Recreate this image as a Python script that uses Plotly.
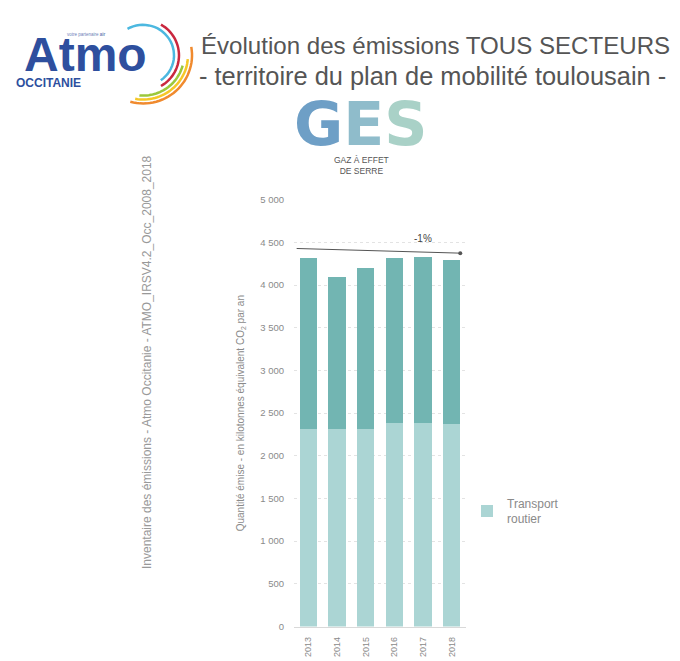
import math
import plotly.graph_objects as go

# data (kt eq. CO2 per year)
years = ["2013", "2014", "2015", "2016", "2017", "2018"]
transport_routier = [2320, 2320, 2320, 2385, 2385, 2370]
total_secteurs = [4320, 4100, 4200, 4320, 4330, 4295]
autres_secteurs = [t - r for t, r in zip(total_secteurs, transport_routier)]
y_ticks = [0, 500, 1000, 1500, 2000, 2500, 3000, 3500, 4000, 4500, 5000]
trend_label = "-1%"

# page body has an 8px margin, so the figure is drawn 8px smaller and
# all pixel positions below are taken from the reference minus 8
OFF = 8
W, H = 680 - OFF, 661 - OFF
GRAY = "#8a8a8a"
SANS = "Liberation Sans, Arial"


def main():
  fig = go.Figure()
  fig.add_trace(go.Bar(
    x=years, y=transport_routier, name="Transport<br>routier",
    marker=dict(color="#abd5d4", line=dict(width=0)), showlegend=True))
  fig.add_trace(go.Bar(
    x=years, y=autres_secteurs, name="Autres secteurs",
    marker=dict(color="#72b5b2", line=dict(width=0)), showlegend=False))

  # invisible overlay axes in pixel units for the header decorations
  fig.add_trace(go.Scatter(x=[0], y=[0], xaxis="x2", yaxis="y2",
                           mode="markers", marker=dict(opacity=0),
                           showlegend=False, hoverinfo="skip"))

  # plot area in reference pixels
  x0, x1, ytop, ybot = 294 - OFF, 466 - OFF, 197 - OFF, 631 - OFF
  fig.update_layout(
    width=W, height=H,
    margin=dict(l=0, r=0, t=0, b=0),
    paper_bgcolor="white", plot_bgcolor="rgba(0,0,0,0)",
    barmode="stack", bargap=0.4,
    separators=", ",
    font=dict(family=SANS, color=GRAY),
    xaxis=dict(domain=[x0 / W, x1 / W], type="category",
               range=[-0.5, 5.5], tickangle=-90,
               tickfont=dict(size=9, color=GRAY),
               ticklabelstandoff=6,
               showline=True, linecolor="#d9d9d9", linewidth=1,
               showgrid=False, ticks=""),
    yaxis=dict(domain=[1 - ybot / H, 1 - ytop / H], range=[0, 5000],
               tickvals=y_ticks, tickformat=",",
               tickfont=dict(size=9.5, color=GRAY),
               ticklabelstandoff=9,
               gridcolor="#e3e3e3", griddash="dot", gridwidth=1,
               zeroline=False, showline=False,
               title=dict(text="Quantité émise - en kilotonnes équivalent CO<sub>2</sub> par an",
                          font=dict(size=10, color=GRAY), standoff=13)),
    xaxis2=dict(domain=[0, 1], range=[0, W], visible=False, fixedrange=True,
                anchor="y2"),
    yaxis2=dict(domain=[0, 1], range=[H, 0], visible=False, fixedrange=True,
                anchor="x2"),
    legend=dict(x=(467 - OFF) / W, y=1 - (491 - OFF) / H,
                xanchor="left", yanchor="top",
                font=dict(size=12, color=GRAY), bgcolor="rgba(0,0,0,0)"),
  )

  ann = []
  # trend arrow and label
  ann.append(dict(x=5.3, y=4375, xref="x", yref="y", ax=-0.46, ay=4430,
                  axref="x", ayref="y", text="", showarrow=True,
                  arrowhead=6, arrowsize=1, arrowwidth=1, arrowcolor="#555"))
  ann.append(dict(x=4, y=4545, xref="x", yref="y", text=trend_label,
                  showarrow=False, font=dict(size=10, color="#444")))

  def px(x, y, text, size, color, family=SANS, **kw):
    d = dict(x=x - OFF, y=y - OFF, xref="x2", yref="y2", text=text,
             showarrow=False, font=dict(size=size, color=color, family=family))
    d.update(kw)
    ann.append(d)

  # header
  px(199, 40, "Évolution des émissions TOUS SECTEURS", 24.1, "#555",
     xanchor="left")
  px(197, 71, "- territoire du plan de mobilité toulousain -", 25.4, "#555",
     xanchor="left")
  px(360, 120,
     "<b><span style='color:#6e9fc6'>G</span><span style='color:#8fbccb'>E</span>"
     "<span style='color:#a9d1c7'>S</span></b>", 60, "#8fbccb",
     family="DejaVu Sans")
  px(361, 162, "GAZ À EFFET<br>DE SERRE", 8.5, "#555")
  # side source text
  px(147, 362, "Inventaire des émissions - Atmo Occitanie - ATMO_IRSV4.2_Occ_2008_2018",
     12, "#999", textangle=-90)

  # logo
  px(85, 49, "<b>Atmo</b>", 48, "#2e4f9e")
  px(86, 29, "votre partenaire <b>air</b>", 4.5, "#6d7fb8")
  px(14, 78, "<b>OCCITANIE</b>", 12, "#2e4f9e", xanchor="left")
  fig.update_layout(annotations=ann)

  # logo arcs (decoration)
  arcs = [  # radius, start deg, end deg, color
    (31, -120, 55, "#4cb8e0"),
    (36, -60, 60, "#c9273f"),
    (41, 15, 95, "#9cc83b"),
    (45, 5, 100, "#f5c727"),
    (49, -10, 105, "#f08a2e"),
  ]
  cx, cy = 143 - OFF, 50 - OFF
  shapes = []
  for r, a0, a1, col in arcs:
    pts = []
    for i in range(31):
      a = math.radians(a0 + (a1 - a0) * i / 30)
      pts.append((cx + r * math.cos(a), cy + r * math.sin(a)))
    path = "M " + " L ".join(f"{x:.1f},{y:.1f}" for x, y in pts)
    shapes.append(dict(type="path", path=path, xref="x2", yref="y2",
                       line=dict(color=col, width=2.5)))
  fig.update_layout(shapes=shapes)

  fig.write_html("out.html")


if __name__ == "__main__":
  main()
